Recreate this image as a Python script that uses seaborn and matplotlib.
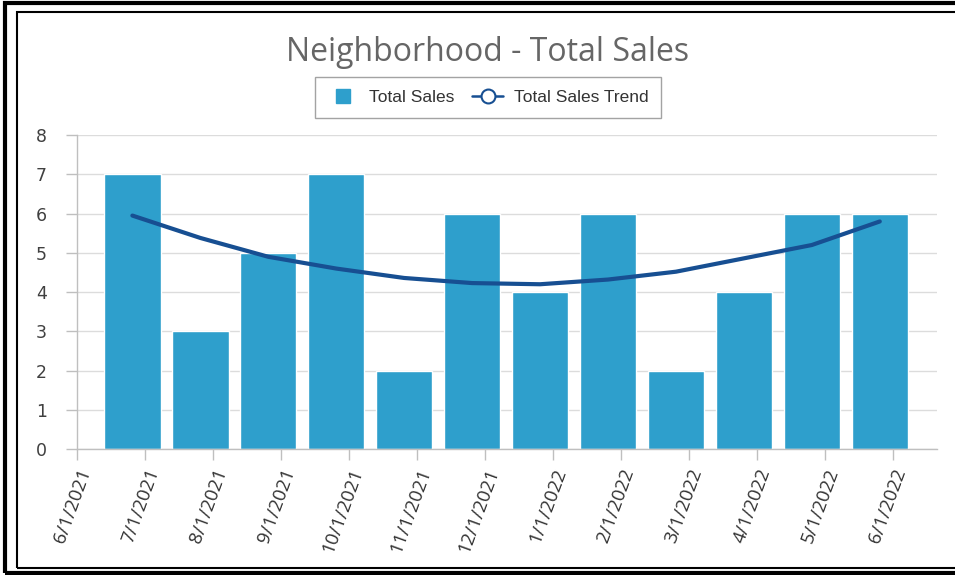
import numpy as np
import pandas as pd
import matplotlib
matplotlib.use("Agg")
import matplotlib.pyplot as plt
from matplotlib.lines import Line2D
from matplotlib.patches import Rectangle
import seaborn as sns

# ---- data ----
tick_labels = ["6/1/2021", "7/1/2021", "8/1/2021", "9/1/2021", "10/1/2021", "11/1/2021",
               "12/1/2021", "1/1/2022", "2/1/2022", "3/1/2022", "4/1/2022", "5/1/2022", "6/1/2022"]
months = tick_labels[1:]
total_sales = [7, 3, 5, 7, 2, 6, 4, 6, 2, 4, 6, 6]
trend = [5.95, 5.38, 4.9, 4.6, 4.36, 4.23, 4.2, 4.32, 4.52, 4.86, 5.2, 5.8]

sns.set_theme(style="white")
plt.rcParams['font.family'] = ['Open Sans', 'DejaVu Sans']

bar_color = "#2E9FCC"
line_color = "#174F92"

offset = 0.19
pos = np.arange(1, len(months) + 1) - offset
df = pd.DataFrame({"pos": pos, "month": months, "sales": total_sales, "trend": trend})

fig = plt.figure(figsize=(9.55, 5.75), dpi=100)
ax = fig.add_axes([0.081, 0.219, 0.900, 0.546])

sns.barplot(data=df, x="pos", y="sales", native_scale=True, color=bar_color,
            saturation=1, width=0.83, ax=ax, zorder=2)
sns.lineplot(data=df, x="pos", y="trend", color=line_color, linewidth=3, ax=ax, zorder=3)

ax.set_xlim(0, 12.65)
ax.set_ylim(0, 8)
ax.set_yticks(range(0, 9))
ax.set_xticks(range(len(tick_labels)))
ax.set_xticklabels(tick_labels, rotation=70, ha="right", rotation_mode="anchor",
                   fontsize=13.5, color="#333333")
ax.set_yticklabels([str(v) for v in range(0, 9)], fontsize=12.5, color="#404040",
                   family="DejaVu Sans")
ax.set_xlabel("")
ax.set_ylabel("")
ax.grid(axis="y", color="#dcdcdc", linewidth=1, zorder=0)
ax.set_axisbelow(True)
for s in ["top", "right"]:
    ax.spines[s].set_visible(False)
for s in ["left", "bottom"]:
    ax.spines[s].set_color("#bfbfbf")
    ax.spines[s].set_linewidth(1)
ax.tick_params(axis="both", which="both", length=8, color="#bfbfbf", width=1,
               left=True, bottom=True)
ax.tick_params(axis="x", pad=4)
ax.tick_params(axis="y", pad=14)

fig.text(0.511, 0.908, "Neighborhood - Total Sales", ha="center", va="center",
         fontsize=23, color="#666666", family="Open Sans")

handles = [
    Line2D([0], [0], marker="s", linestyle="none", markersize=10,
           markerfacecolor=bar_color, markeredgecolor=bar_color),
    Line2D([0], [0], marker="o", color=line_color, linewidth=1.8, markersize=10,
           markerfacecolor="white", markeredgecolor=line_color, markeredgewidth=1.5),
]
leg = fig.legend(handles, ["Total Sales", "Total Sales Trend"], loc="center",
                 bbox_to_anchor=(0.511, 0.830), ncol=2, frameon=True, fancybox=False,
                 prop={"family": "Liberation Sans", "size": 12.5}, handlelength=1.8,
                 columnspacing=1.0, handletextpad=0.6, borderpad=0.75)
leg.get_frame().set_edgecolor("#8c8c8c")
leg.get_frame().set_linewidth(1)
for t in leg.get_texts():
    t.set_color("#333333")

# frame around the image
W, H = 955, 575
fig.patches.append(Rectangle((5 / W, 2 / H), 1.2, 1 - 5 / H, transform=fig.transFigure,
                             fill=False, edgecolor="black", linewidth=3))
fig.patches.append(Rectangle((17 / W, 7 / H), 1.2, 1 - 19 / H, transform=fig.transFigure,
                             fill=False, edgecolor="black", linewidth=1.5))

fig.savefig("out.png", dpi=100)
